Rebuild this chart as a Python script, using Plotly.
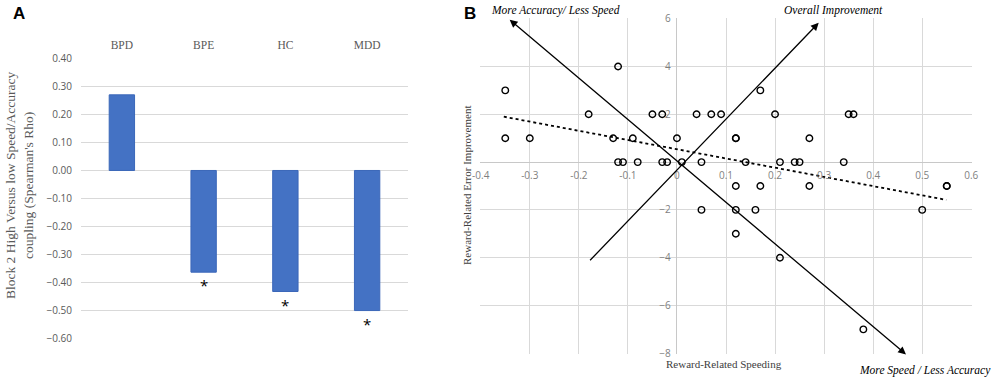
import plotly.graph_objects as go

# ---------------- Panel A data ----------------
groups = ["BPD", "BPE", "HC", "MDD"]
rho = [0.27, -0.363, -0.432, -0.50]
sig = ["", "*", "*", "*"]
a_ticks = [0.40, 0.30, 0.20, 0.10, 0.00, -0.10, -0.20, -0.30, -0.40, -0.50, -0.60]

# ---------------- Panel B data ----------------
speeding = [-0.35, -0.12, -0.18, -0.35, -0.30, -0.13, -0.09, -0.12, -0.11, -0.08,
            -0.05, -0.03, 0.04, 0.07, 0.09, 0.20, 0.17, 0.00, 0.12, 0.12,
            0.27, -0.03, -0.02, 0.01, 0.05, 0.14, 0.21, 0.24, 0.25, 0.35,
            0.36, 0.34, 0.12, 0.17, 0.27, 0.55, 0.55, 0.05, 0.12, 0.16,
            0.12, 0.21, 0.50, 0.38]
error_impr = [3, 4, 2, 1, 1, 1, 1, 0, 0, 0,
              2, 2, 2, 2, 2, 2, 3, 1, 1, 1,
              1, 0, 0, 0, 0, 0, 0, 0, 0, 2,
              2, 0, -1, -1, -1, -1, -1, -2, -2, -2,
              -3, -4, -2, -7]
trend_x = [-0.353, 0.549]
trend_y = [1.90, -1.58]
b_xticks = [-0.4, -0.3, -0.2, -0.1, 0, 0.1, 0.2, 0.3, 0.4, 0.5, 0.6]
b_xlabels = ["-0.4", "-0.3", "-0.2", "-0.1", "0", "0.1", "0.2", "0.3", "0.4", "0.5", "0.6"]
b_yticks = [6, 4, 2, -2, -4, -6, -8]
# arrows (data coordinates)
acc_speed_arrow = {"from": (0.470, -8.1), "to": (-0.341, 5.96)}
overall_arrow = {"from": (-0.180, -4.17), "to": (0.289, 5.83)}

W, H = 998, 381
GRID = "#D9D9D9"
TICKC = "#7F7F7F"
SERIF = "Liberation Serif"
SANS = "Open Sans"

fig = go.Figure()

# Panel A bars
fig.add_trace(go.Bar(
    x=groups, y=rho, xaxis="x", yaxis="y",
    marker=dict(color="#4472C4", line=dict(color="#3B67B9", width=1)),
    width=0.31, showlegend=False,
))
# significance stars
for g, v, s in zip(groups, rho, sig):
    if s:
        fig.add_annotation(x=g, y=v, xref="x", yref="y", text=s, showarrow=False,
                           yanchor="top", yshift=-1,
                           font=dict(family=SANS, size=15, color="#000000"))

# Panel B trend line
fig.add_trace(go.Scatter(
    x=trend_x, y=trend_y, xaxis="x2", yaxis="y2", mode="lines",
    line=dict(color="#000000", width=1.8, dash="dot"), showlegend=False,
))
# Panel B scatter
fig.add_trace(go.Scatter(
    x=speeding, y=error_impr, xaxis="x2", yaxis="y2", mode="markers",
    marker=dict(symbol="circle-open", size=6.5, color="#000000", line=dict(width=1.4, color="#000000")),
    showlegend=False,
))

# arrows
fig.add_annotation(x=acc_speed_arrow["to"][0], y=acc_speed_arrow["to"][1],
                   ax=acc_speed_arrow["from"][0], ay=acc_speed_arrow["from"][1],
                   xref="x2", yref="y2", axref="x2", ayref="y2", text="",
                   showarrow=True, arrowhead=2, startarrowhead=2, arrowside="end+start",
                   arrowsize=1.2, arrowwidth=1.3, arrowcolor="#000000")
fig.add_annotation(x=overall_arrow["to"][0], y=overall_arrow["to"][1],
                   ax=overall_arrow["from"][0], ay=overall_arrow["from"][1],
                   xref="x2", yref="y2", axref="x2", ayref="y2", text="",
                   showarrow=True, arrowhead=2, arrowsize=1.2, arrowwidth=1.3,
                   arrowcolor="#000000")

# x2 tick labels along the y=0 line, y2 tick labels along x=0 line
xdom = [480 / W, 972 / W]
ydomB = [1 - 354 / H, 1 - 18 / H]
yrangeB = [-8, 6]
xrangeB = [-0.4, 0.6]
x_axis_pos = ydomB[0] + (0 - yrangeB[0]) / (yrangeB[1] - yrangeB[0]) * (ydomB[1] - ydomB[0])
y_axis_pos = xdom[0] + (0 - xrangeB[0]) / (xrangeB[1] - xrangeB[0]) * (xdom[1] - xdom[0])

def txt(x, y, s, size=11, italic=False, angle=0, bold=False, family=SERIF, color="#000000"):
    if italic:
        s = "<i>" + s + "</i>"
    if bold:
        s = "<b>" + s + "</b>"
    fig.add_annotation(x=x, y=y, xref="paper", yref="paper", text=s, showarrow=False,
                       textangle=angle, xanchor="center", yanchor="middle",
                       font=dict(family=family, size=size, color=color))

txt(19 / W, 1 - 14 / H, "A", size=17, bold=True, family="Liberation Sans")
txt(470 / W, 1 - 14 / H, "B", size=17, bold=True, family="Liberation Sans")
txt(20 / W, 1 - 185 / H,
    "Block 2 High Versus low Speed/Accuracy<br>coupling (Spearman's Rho)",
    size=13.5, angle=-90, color="#595959")
txt(555 / W, 1 - 10 / H, "More Accuracy/ Less Speed", size=11.5, italic=True)
txt(833 / W, 1 - 10 / H, "Overall Improvement", size=11.5, italic=True)
txt(925 / W, 1 - 370 / H, "More Speed / Less Accuracy", size=11.5, italic=True)
txt(467 / W, 1 - 186 / H, "Reward-Related Error Improvement", size=11, angle=-90, color="#404040")
txt(724 / W, 1 - 364 / H, "Reward-Related Speeding", size=11, color="#404040")

fig.update_layout(
    width=W, height=H, autosize=False,
    margin=dict(l=0, r=0, t=0, b=0, pad=0, autoexpand=False),
    paper_bgcolor="#FFFFFF", plot_bgcolor="#FFFFFF",
    showlegend=False,
    bargap=0.69,
    xaxis=dict(domain=[81 / W, 408 / W], anchor="y", side="top", type="category",
               showgrid=False, showline=False, zeroline=False, ticks="", automargin=False,
               ticklabelstandoff=6,
               tickfont=dict(family=SERIF, size=11.5, color="#595959")),
    yaxis=dict(domain=[1 - 339 / H, 1 - 58 / H], anchor="x", range=[-0.6015, 0.4015],
               tickvals=a_ticks, tickformat=".2f", showgrid=True, gridcolor=GRID, gridwidth=1,
               zeroline=True, zerolinecolor=GRID, zerolinewidth=1, showline=False, ticks="",
               ticklabelstandoff=8, automargin=False,
               tickfont=dict(family=SANS, size=10, color="#595959")),
    xaxis2=dict(domain=xdom, anchor="free", position=x_axis_pos, range=[-0.4015, 0.6015],
                tickvals=b_xticks, ticktext=b_xlabels, showgrid=True, gridcolor=GRID,
                zeroline=True, zerolinecolor="#C8C8C8", zerolinewidth=1, showline=False, ticks="",
                automargin=False, ticklabelstandoff=6,
                tickfont=dict(family=SANS, size=10, color=TICKC)),
    yaxis2=dict(domain=ydomB, anchor="free", position=y_axis_pos, range=[-8.03, 6.03],
                tickvals=b_yticks, showgrid=True, gridcolor=GRID,
                zeroline=True, zerolinecolor="#C8C8C8", zerolinewidth=1, showline=False, ticks="",
                automargin=False, ticklabelstandoff=6,
                tickfont=dict(family=SANS, size=10, color=TICKC)),
)

fig.write_html("out.html", config={"displayModeBar": False},
               post_script="document.body.style.margin='0';document.body.style.overflow='hidden';")
